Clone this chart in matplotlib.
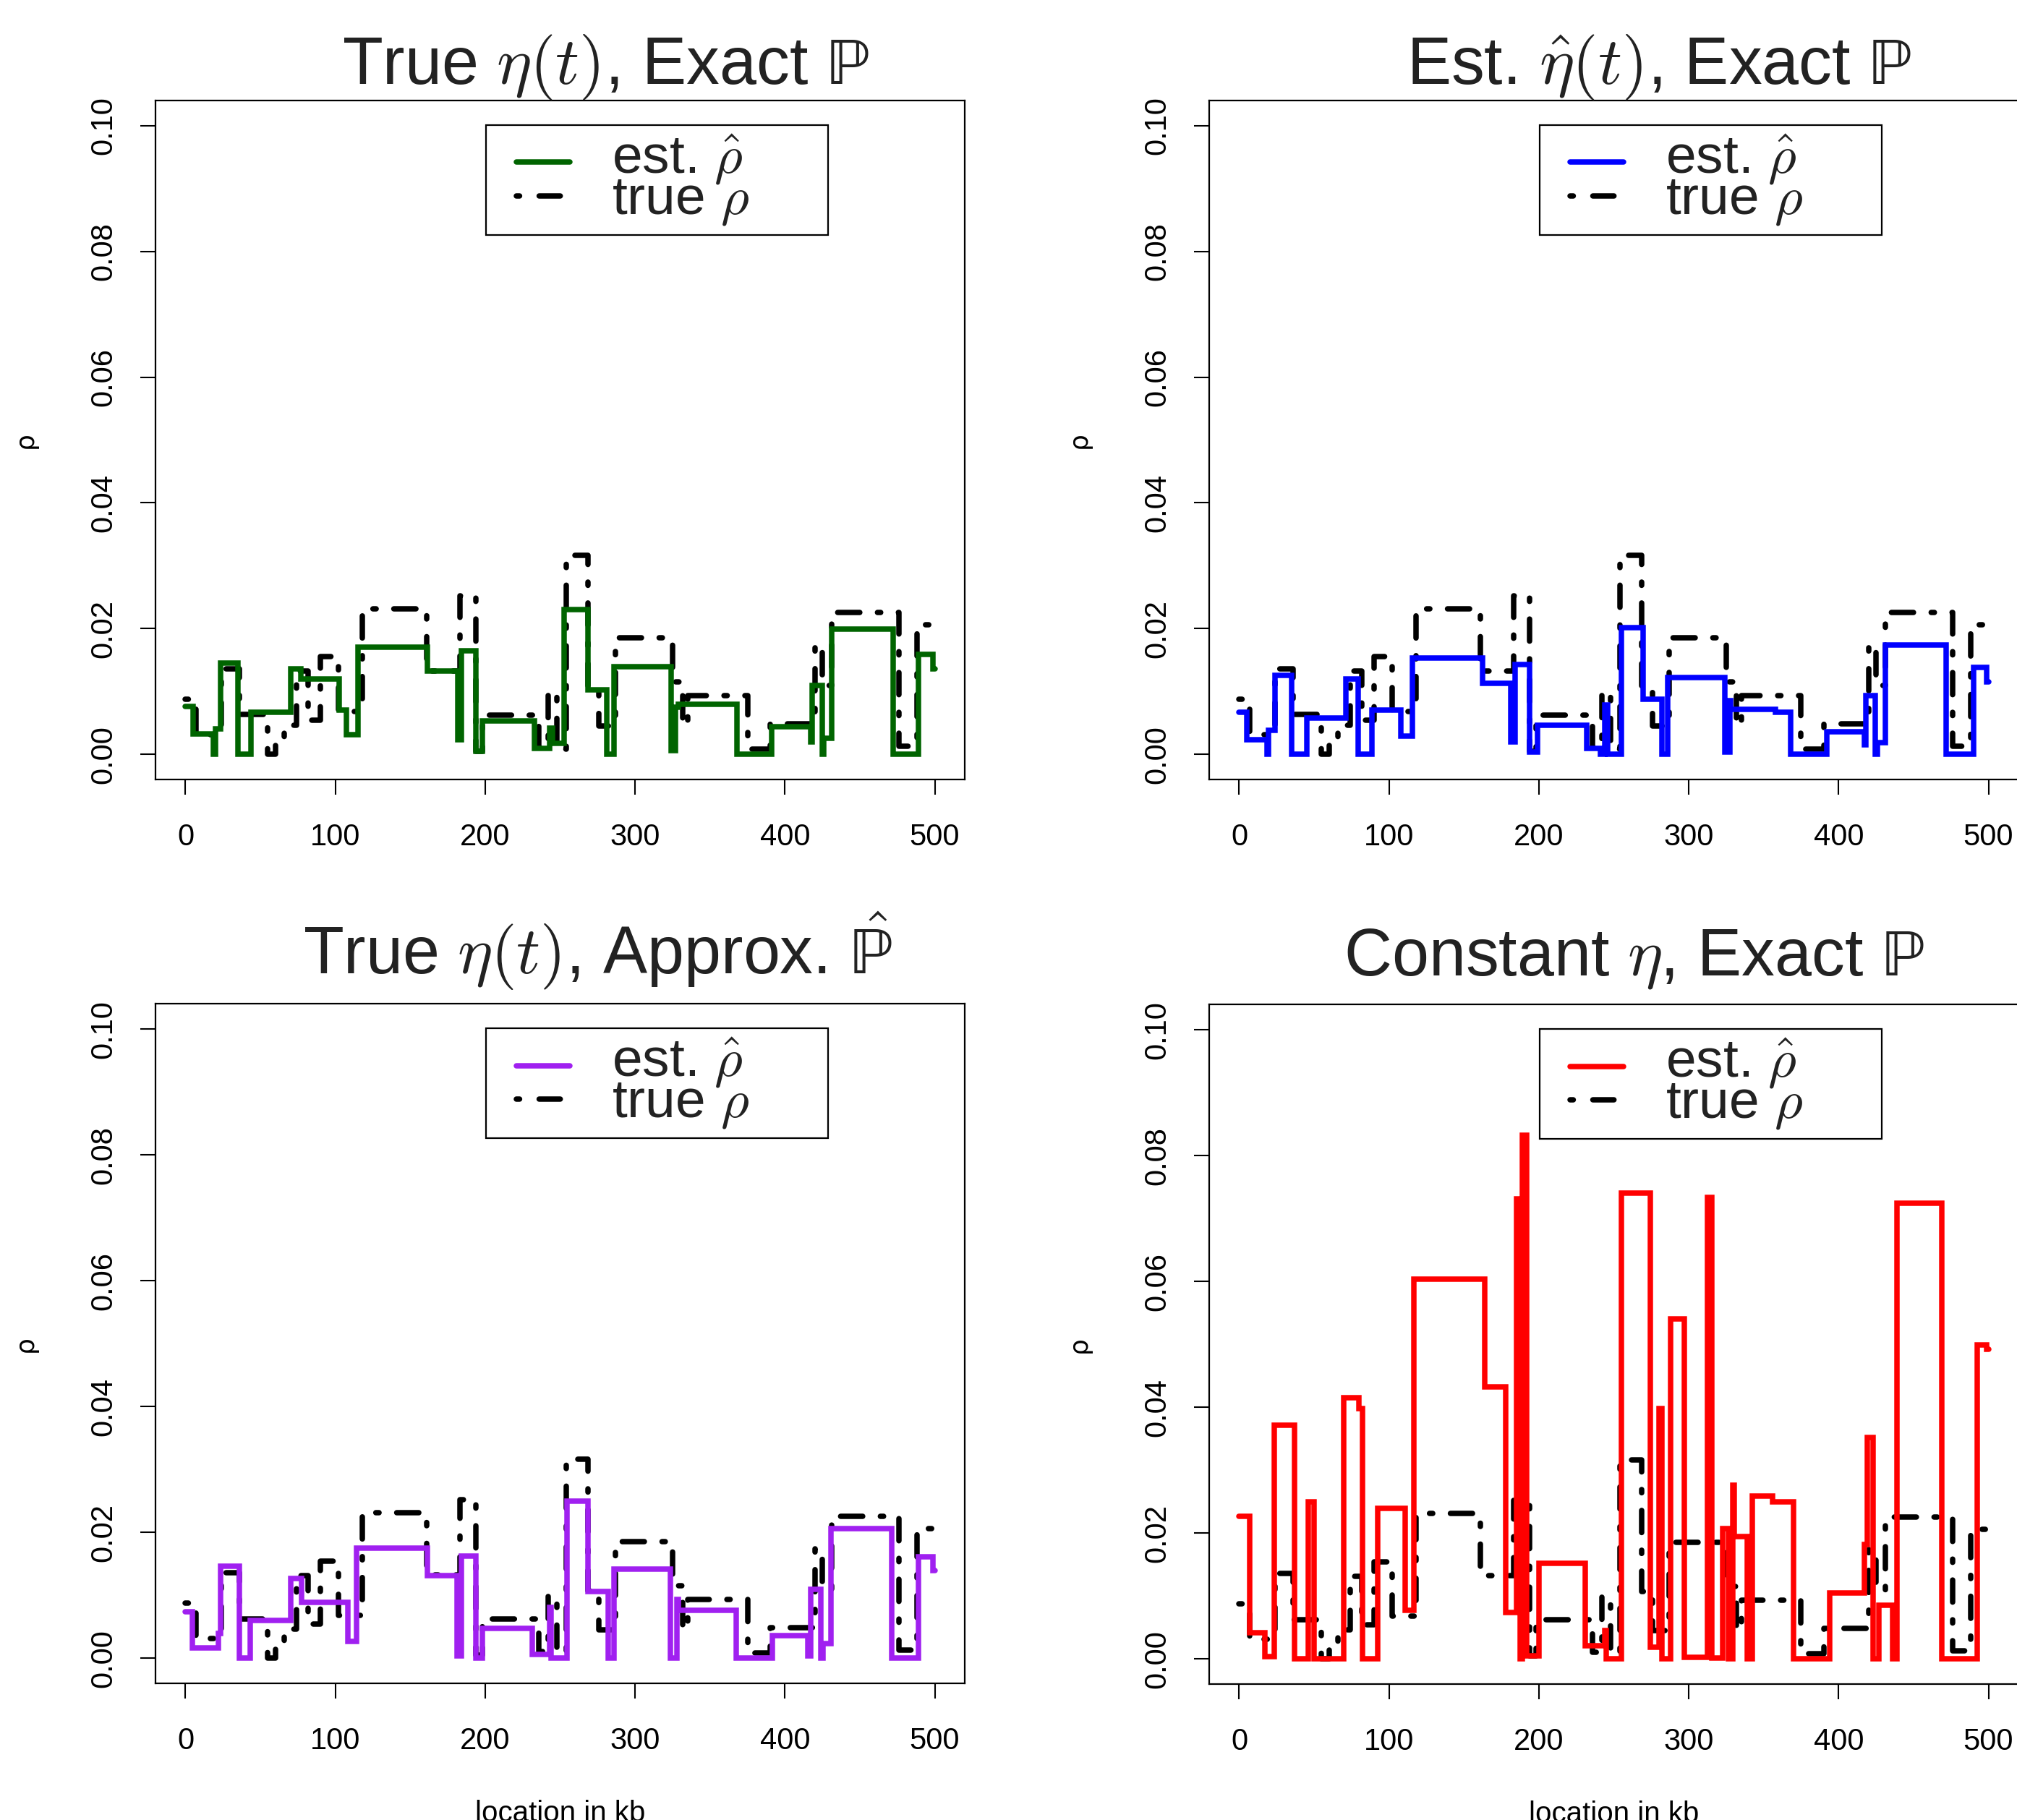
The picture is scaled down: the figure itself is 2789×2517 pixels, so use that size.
import numpy as np
import matplotlib
matplotlib.use("Agg")
import matplotlib.pyplot as plt
from matplotlib.lines import Line2D
from matplotlib.legend_handler import HandlerLine2D

plt.rcParams['font.family'] = ['Liberation Sans', 'DejaVu Sans']
plt.rcParams['mathtext.fontset'] = 'cm'
plt.rcParams['lines.scale_dashes'] = False

# true rho (same in every panel), step starts in kb
true_x = [0, 7, 24, 36, 55, 60, 66, 74, 82, 90, 102, 118, 161, 183, 194, 198, 236, 242,
          248, 254, 268.5, 276, 287, 325, 332, 335, 375, 390, 420, 425, 431, 476, 488]
true_y = [0.0088, 0.0031, 0.0136, 0.0063, 0.0, 0.0023, 0.0046, 0.0132, 0.0054, 0.0155,
          0.0068, 0.0231, 0.0133, 0.0252, 0.0005, 0.0062, 0.0011, 0.0099, 0.0008, 0.0316,
          0.0107, 0.0045, 0.0186, 0.0115, 0.0046, 0.0094, 0.0008, 0.0049, 0.0174, 0.0110,
          0.0226, 0.0013, 0.0206]

# estimate: true eta(t), exact P
green_x = [0, 5, 18.5, 20, 23.5, 35, 43.5, 70, 77, 102.5, 107.5, 115, 161.5, 181.5, 184,
           194, 198, 233, 243, 245, 252.5, 268.5, 281, 286, 324, 327, 329, 368, 391, 417,
           418, 425, 426, 431, 472, 489, 499]
green_y = [0.0076, 0.0032, 0.0, 0.0040, 0.0145, 0.0, 0.0067, 0.0136, 0.0120, 0.0070,
           0.0031, 0.0170, 0.0132, 0.0023, 0.0165, 0.0005, 0.0053, 0.0010, 0.0042, 0.0017,
           0.0230, 0.0103, 0.0, 0.0140, 0.0006, 0.0075, 0.0080, 0.0, 0.0044, 0.0020,
           0.0109, 0.0, 0.0026, 0.0199, 0.0, 0.0159, 0.0136]

# estimate: est. eta(t), exact P
blue_x = [0, 5, 18.5, 19.5, 24, 35, 45, 71, 79.5, 88.4, 108, 115.6, 162.3, 181.4, 184,
          194, 199, 232, 241, 244, 246, 255, 269.5, 282, 286, 324, 327.5, 328, 358, 368,
          392, 417, 418, 424.5, 426, 431, 472, 490, 499]
blue_y = [0.0067, 0.0023, 0.0, 0.0038, 0.0126, 0.0, 0.0058, 0.0120, 0.0, 0.0071, 0.0029,
          0.0153, 0.0113, 0.0020, 0.0143, 0.0004, 0.0046, 0.0010, 0.0, 0.0078, 0.0, 0.0201,
          0.0088, 0.0, 0.0122, 0.0004, 0.0085, 0.0072, 0.0067, 0.0, 0.0036, 0.0015, 0.0094,
          0.0, 0.0019, 0.0174, 0.0, 0.0138, 0.0115]

# estimate: true eta(t), approx P
purple_x = [0, 4.4, 22, 23.5, 36, 43.4, 70, 77.5, 108.3, 114, 161.5, 181.4, 184, 194, 198,
            231.5, 243, 244, 254.5, 268.5, 282, 286, 323.5, 328, 329, 367.5, 391.5, 415.5,
            417, 424, 425.5, 430.6, 471.5, 489, 499]
purple_y = [0.0074, 0.0016, 0.0040, 0.0146, 0.0, 0.0060, 0.0127, 0.0089, 0.0027, 0.0175,
            0.0131, 0.0004, 0.0163, 0.0, 0.0048, 0.0006, 0.0081, 0.0, 0.0250, 0.0106, 0.0,
            0.0142, 0.0, 0.0094, 0.0076, 0.0, 0.0036, 0.0004, 0.0110, 0.0, 0.0023, 0.0206,
            0.0, 0.0161, 0.0140]

# estimate: constant eta, exact P
red_x = [0, 7, 17, 23.5, 36.8, 46, 50, 70, 80, 82.5, 92.5, 110.8, 116.6, 164, 178, 185,
         187.5, 189, 192, 200, 231, 244, 245, 255, 274.5, 280, 282, 287.7, 297, 312.5,
         315.5, 322.4, 326.7, 329.5, 330.5, 339, 342.5, 356, 370, 394, 417, 419, 423, 427,
         436, 439, 469, 492.6, 499]
red_y = [0.0227, 0.0042, 0.0004, 0.0372, 0.0, 0.0250, 0.0, 0.0415, 0.0398, 0.0, 0.0239,
         0.0077, 0.0604, 0.0433, 0.0074, 0.0731, 0.0, 0.0833, 0.0005, 0.0152, 0.0021,
         0.0045, 0.0, 0.0740, 0.0019, 0.0398, 0.0, 0.0540, 0.0003, 0.0734, 0.0002, 0.0207,
         0.0, 0.0276, 0.0195, 0.0, 0.0259, 0.0250, 0.0, 0.0105, 0.0182, 0.0352, 0.0,
         0.0085, 0.0, 0.0725, 0.0, 0.0499, 0.0492]

titles = [r"True $\eta(t)$, Exact $\mathrm{ℙ}$",
          r"Est. $\hat{\eta}(t)$, Exact $\mathrm{ℙ}$",
          r"True $\eta(t)$, Approx. $\hat{\mathrm{ℙ}}$",
          r"Constant $\eta$, Exact $\mathrm{ℙ}$"]
title_x = [0.556, 0.556, 0.547, 0.525]
title_y = [1.0246, 1.0246, 1.0436, 1.0436]
est_x = [green_x, blue_x, purple_x, red_x]
est_y = [green_y, blue_y, purple_y, red_y]
colors = ["#006400", "#0000FF", "#A020F0", "#FF0000"]

positions = [[0.0771, 0.5717, 0.4012, 0.3731],
             [0.5995, 0.5717, 0.4012, 0.3731],
             [0.0771, 0.0750, 0.4012, 0.3734],
             [0.5995, 0.0746, 0.4012, 0.3734]]

LW = 5.4
DASH = (3.2, 17.6, 22, 17.6)


class ShiftedLine(HandlerLine2D):
    # legend line moved up/down by dy (in font-size units)
    def __init__(self, dy=0.0, **kw):
        super().__init__(**kw)
        self.dy = dy

    def create_artists(self, legend, orig_handle, xdescent, ydescent, width, height,
                       fontsize, trans):
        arts = super().create_artists(legend, orig_handle, xdescent, ydescent, width,
                                      height, fontsize, trans)
        for a in arts:
            a.set_ydata(np.asarray(a.get_ydata()) + self.dy * fontsize)
        return arts


def steps(xs, ys):
    return list(xs) + [500], list(ys) + [ys[-1]]


fig = plt.figure(figsize=(27.89, 25.17), dpi=100)

for i in range(4):
    ax = fig.add_axes(positions[i])
    tx, ty = steps(true_x, true_y)
    ex, ey = steps(est_x[i], est_y[i])
    ax.step(tx, ty, where="post", color="black", lw=LW, dashes=DASH,
            dash_capstyle="round", solid_capstyle="round", zorder=2)
    ax.step(ex, ey, where="post", color=colors[i], lw=LW,
            solid_capstyle="round", solid_joinstyle="miter", zorder=3)

    ax.set_xlim(-20, 520)
    ax.set_ylim(-0.004, 0.104)
    ax.set_xticks([0, 100, 200, 300, 400, 500])
    ax.set_yticks([0.0, 0.02, 0.04, 0.06, 0.08, 0.10])
    ax.set_yticklabels(["0.00", "0.02", "0.04", "0.06", "0.08", "0.10"])
    ax.tick_params(length=15, width=1.5, labelsize=30)
    ax.tick_params(axis="x", pad=28)
    ax.tick_params(axis="y", pad=22, labelrotation=90)
    for lab in ax.get_yticklabels():
        lab.set_va("center")
    for sp in ax.spines.values():
        sp.set_linewidth(1.6)

    ax.set_ylabel(r"ρ", fontsize=26, labelpad=52, family=["DejaVu Sans"])
    if i >= 2:
        ax.set_xlabel("location in kb", fontsize=29, labelpad=44)

    ax.set_title(titles[i], fontsize=66, x=title_x[i], y=title_y[i], pad=0,
                 color="#222222")

    h_est = Line2D([], [], color=colors[i], lw=LW, solid_capstyle="round")
    h_true = Line2D([], [], color="black", lw=LW, dashes=(3.2, 19.5, 21, 30),
                    dash_capstyle="round")
    hmap = {h_est: ShiftedLine(dy=-0.15, xpad=0.41),
            h_true: ShiftedLine(dy=-0.02, xpad=0.41)}
    leg = ax.legend([h_est, h_true], [r"est. $\hat{\rho}$", r"true $\rho$"],
                    loc="upper left", bbox_to_anchor=(0.4086, 0.803, 0.4229, 0.161),
                    mode="expand", fontsize=54, frameon=True, fancybox=False,
                    edgecolor="black", framealpha=1, borderpad=0.145,
                    labelspacing=-0.22, handlelength=1.40, handletextpad=0.77,
                    borderaxespad=0, handler_map=hmap)
    leg.get_frame().set_linewidth(1.6)
    for t in leg.get_texts():
        t.set_color("#222222")

fig.savefig("out.png", dpi=100)
